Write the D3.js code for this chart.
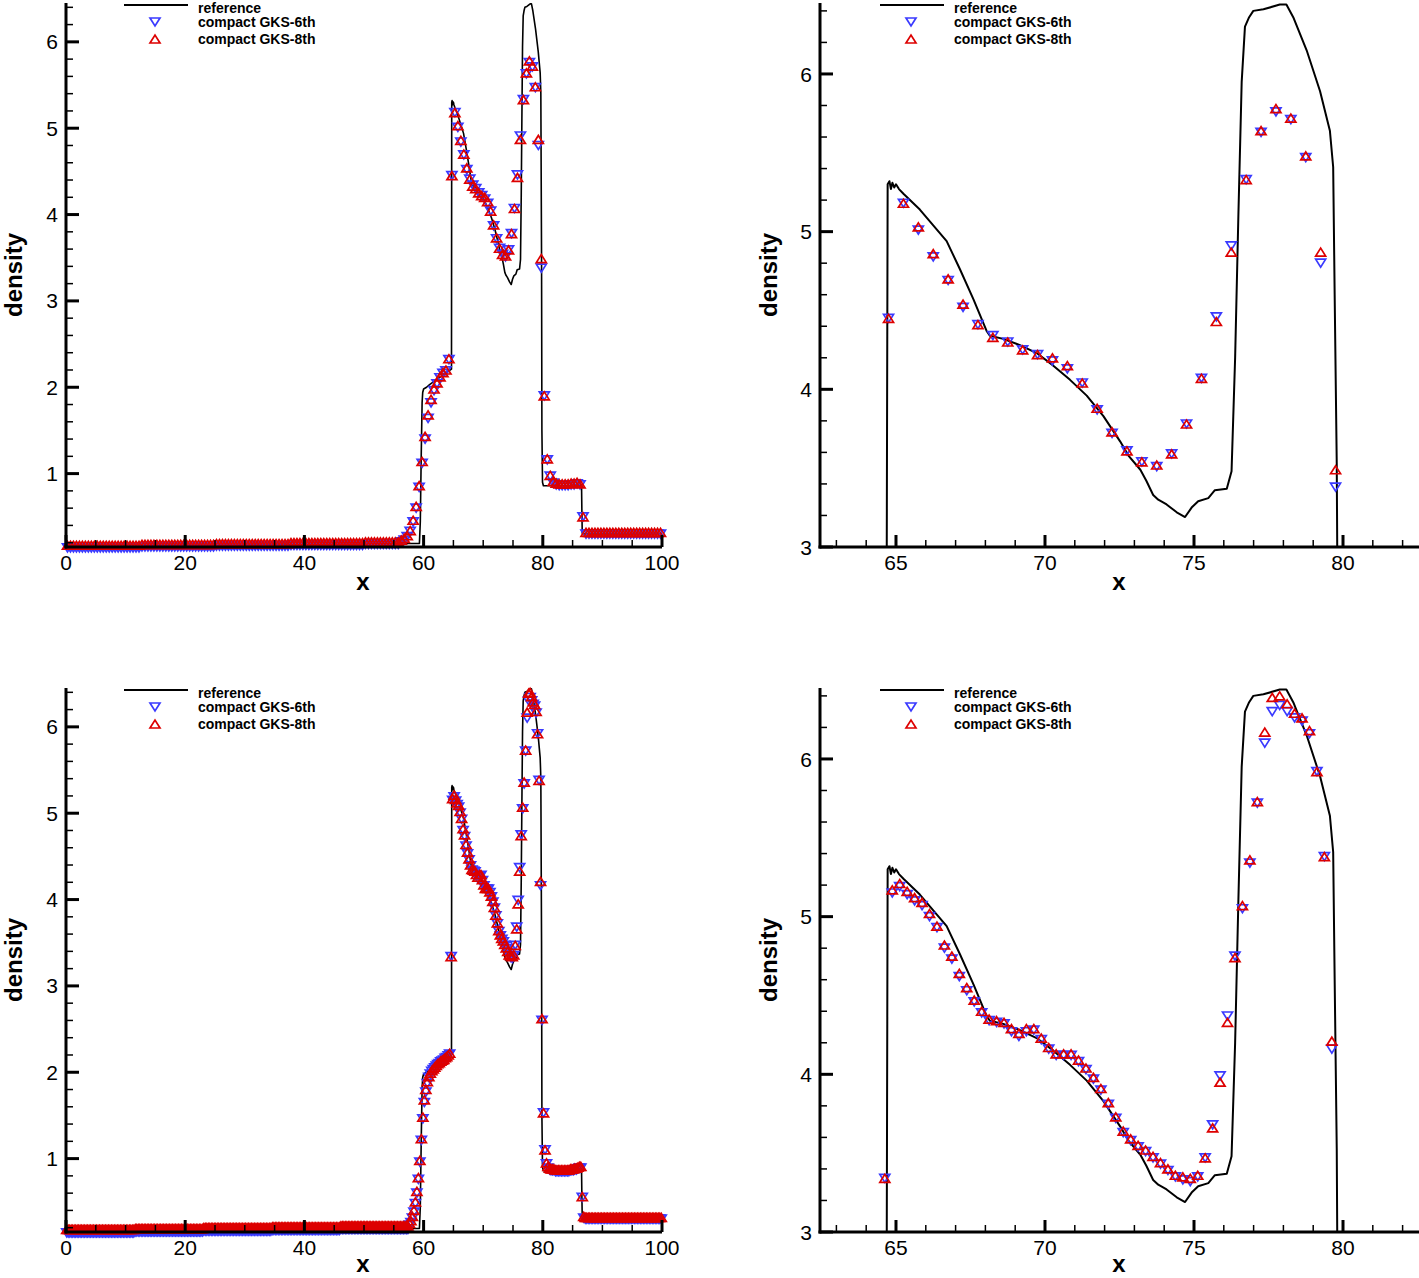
<!DOCTYPE html>
<html><head><meta charset="utf-8">
<script src="https://cdn.jsdelivr.net/npm/d3@7"></script>
<style>body{margin:0;background:#fff}svg{display:block}text{font-family:"Liberation Sans",Arial,Helvetica,sans-serif;fill:#000}</style>
</head><body><svg id="c" width="1419" height="1278"></svg>
<script>
// reference solution (black line)
const refX=[0,10,20,30,40,50,57,59.3,59.45,59.6,59.75,59.85,60,60.5,61,62,63,64,64.68,64.72,64.78,64.83,64.88,64.94,65,65.1,65.25,65.8,66.25,66.7,67.15,67.6,68.04,68.15,68.6,69.16,69.72,70.28,70.84,71.4,71.96,72.52,72.8,73.2,73.4,73.63,73.8,74.08,74.42,74.7,74.92,75.14,75.48,75.7,76.1,76.26,76.38,76.49,76.6,76.71,76.85,76.99,77.33,77.88,78.1,78.33,78.78,79.23,79.56,79.67,79.72,79.79,79.85,79.95,80.1,82,84,86,86.5,86.55,86.62,87,100];
const refY=[.16,.165,.17,.175,.18,.185,.19,.19,.45,1.2,1.82,1.94,1.98,2.0,2.03,2.08,2.13,2.18,2.21,5.30,5.32,5.27,5.31,5.28,5.30,5.27,5.24,5.14,5.04,4.94,4.76,4.57,4.37,4.34,4.32,4.28,4.23,4.15,4.06,3.96,3.83,3.67,3.58,3.49,3.42,3.33,3.30,3.27,3.22,3.19,3.25,3.29,3.31,3.36,3.37,3.48,4.2,5.11,5.95,6.30,6.36,6.40,6.41,6.44,6.44,6.36,6.15,5.89,5.64,5.41,4.6,3.53,1.5,.90,.86,.86,.86,.87,.87,.6,.31,.30,.30];

// top row: 200 cells
const gks6Top=[
.14,.14,.14,.14,.14,.14,.14,.14,.14,.14,
.14,.14,.14,.14,.14,.14,.14,.14,.14,.14,
.14,.14,.14,.14,.14,
.15,.15,.15,.15,.15,.15,.15,.15,.15,.15,
.15,.15,.15,.15,.15,.15,.15,.15,.15,.15,
.15,.15,.15,.15,.15,
.16,.16,.16,.16,.16,.16,.16,.16,.16,.16,
.16,.16,.16,.16,.16,.16,.16,.16,.16,.16,
.16,.16,.16,.16,.16,
.17,.17,.17,.17,.17,.17,.17,.17,.17,.17,
.17,.17,.17,.17,.17,.17,.17,.17,.17,.17,
.17,.17,.17,.17,.17,
.18,.18,.18,.18,.18,.18,.18,.18,.18,.18,
.18,.18,
.21,.23,.27,.33,.44,.60,.84,1.12,1.40,1.64,
1.82,1.96,2.04,2.11,2.16,2.19,2.32,4.45,5.18,5.01,
4.84,4.69,4.52,4.41,4.34,4.30,4.25,4.22,4.18,4.13,
4.04,3.87,3.72,3.61,3.54,3.51,3.59,3.78,4.07,4.46,
4.91,5.33,5.63,5.76,5.71,5.47,4.80,3.38,1.90,1.16,
.97,.89,.87,.86,.86,.86,.86,.87,.87,.88,
.87,.50,
.30,.30,.30,.30,.30,.30,.30,.30,.30,.30,
.30,.30,.30,.30,.30,.30,.30,.30,.30,.30,
.30,.30,.30,.30,.30,.30];
const gks8Top=[
.17,.17,.17,.17,.17,.17,.17,.17,.17,.17,
.17,.17,.17,.17,.17,.17,.17,.17,.17,.17,
.17,.17,.17,.17,.17,
.18,.18,.18,.18,.18,.18,.18,.18,.18,.18,
.18,.18,.18,.18,.18,.18,.18,.18,.18,.18,
.18,.18,.18,.18,.18,
.19,.19,.19,.19,.19,.19,.19,.19,.19,.19,
.19,.19,.19,.19,.19,.19,.19,.19,.19,.19,
.19,.19,.19,.19,.19,
.20,.20,.20,.20,.20,.20,.20,.20,.20,.20,
.20,.20,.20,.20,.20,.20,.20,.20,.20,.20,
.20,.20,.20,.20,.20,
.21,.21,.21,.21,.21,.21,.21,.21,.21,.21,
.21,.21,
.23,.25,.28,.34,.46,.62,.86,1.14,1.43,1.68,
1.86,1.98,2.05,2.12,2.17,2.20,2.33,4.45,5.18,5.03,
4.86,4.70,4.54,4.41,4.33,4.30,4.25,4.22,4.20,4.15,
4.04,3.88,3.73,3.61,3.54,3.52,3.59,3.78,4.07,4.43,
4.87,5.33,5.64,5.78,5.72,5.48,4.87,3.49,1.90,1.17,
.98,.91,.89,.88,.88,.88,.88,.89,.89,.90,
.88,.50,
.32,.32,.32,.32,.32,.32,.32,.32,.32,.32,
.32,.32,.32,.32,.32,.32,.32,.32,.32,.32,
.32,.32,.32,.32,.32,.32];

// bottom row: 400 cells
const gks6Bot=[
.14,.14,.14,.14,.14,.14,.14,.14,.14,.14,
.14,.14,.14,.14,.14,.14,.14,.14,.14,.14,
.14,.14,.14,.14,.14,.14,.14,.14,.14,.14,
.14,.14,.14,.14,.14,.14,.14,.14,.14,.14,
.14,.14,.14,.14,.14,.14,
.15,.15,.15,.15,.15,.15,.15,.15,.15,.15,
.15,.15,.15,.15,.15,.15,.15,.15,.15,.15,
.15,.15,.15,.15,.15,.15,.15,.15,.15,.15,
.15,.15,.15,.15,.15,.15,.15,.15,.15,.15,
.15,.15,.15,.15,.15,.15,
.16,.16,.16,.16,.16,.16,.16,.16,.16,.16,
.16,.16,.16,.16,.16,.16,.16,.16,.16,.16,
.16,.16,.16,.16,.16,.16,.16,.16,.16,.16,
.16,.16,.16,.16,.16,.16,.16,.16,.16,.16,
.16,.16,.16,.16,.16,.16,
.17,.17,.17,.17,.17,.17,.17,.17,.17,.17,
.17,.17,.17,.17,.17,.17,.17,.17,.17,.17,
.17,.17,.17,.17,.17,.17,.17,.17,.17,.17,
.17,.17,.17,.17,.17,.17,.17,.17,.17,.17,
.17,.17,.17,.17,.17,.17,
.18,.18,.18,.18,.18,.18,.18,.18,.18,.18,
.18,.18,.18,.18,.18,.18,.18,.18,.18,.18,
.18,.18,.18,.18,.18,.18,.18,.18,.18,.18,
.18,.18,.18,.18,.18,.18,.18,.18,.18,.18,
.18,.18,.18,.18,.18,.18,
.23,.26,.31,.38,.48,.60,.76,.96,1.21,1.46,
1.65,1.77,1.87,1.94,1.98,2.01,2.03,2.05,2.07,2.09,
2.10,2.12,2.13,2.14,2.16,2.17,2.19,2.21,3.34,5.15,
5.19,5.14,5.10,5.07,5.00,4.93,4.80,4.73,4.62,4.53,
4.46,4.39,4.34,4.33,4.32,4.27,4.24,4.27,4.28,4.22,
4.16,4.12,4.12,4.12,4.08,4.03,3.97,3.90,3.81,3.72,
3.63,3.58,3.54,3.51,3.47,3.43,3.39,3.35,3.33,3.32,
3.35,3.47,3.68,3.99,4.37,4.75,5.05,5.34,5.72,6.10,
6.30,6.34,6.30,6.26,6.24,6.16,5.92,5.38,4.16,2.60,
1.53,1.10,.94,.89,
.87,.86,.86,.86,.85,.85,.85,.85,.85,.85,
.85,.85,.85,.85,.86,.86,.86,.87,.87,.88,
.89,.89,
.55,.31,
.30,.30,.30,.30,.30,.30,.30,.30,.30,.30,
.30,.30,.30,.30,.30,.30,.30,.30,.30,.30,
.30,.30,.30,.30,.30,.30,.30,.30,.30,.30,
.30,.30,.30,.30,.30,.30,.30,.30,.30,.30,
.30,.30,.30,.30,.30,.30,.30,.30,.30,.30,
.30,.30];
const gks8Bot=[
.18,.18,.18,.18,.18,.18,.18,.18,.18,.18,
.18,.18,.18,.18,.18,.18,.18,.18,.18,.18,
.18,.18,.18,.18,.18,.18,.18,.18,.18,.18,
.18,.18,.18,.18,.18,.18,.18,.18,.18,.18,
.18,.18,.18,.18,.18,.18,
.19,.19,.19,.19,.19,.19,.19,.19,.19,.19,
.19,.19,.19,.19,.19,.19,.19,.19,.19,.19,
.19,.19,.19,.19,.19,.19,.19,.19,.19,.19,
.19,.19,.19,.19,.19,.19,.19,.19,.19,.19,
.19,.19,.19,.19,.19,.19,
.20,.20,.20,.20,.20,.20,.20,.20,.20,.20,
.20,.20,.20,.20,.20,.20,.20,.20,.20,.20,
.20,.20,.20,.20,.20,.20,.20,.20,.20,.20,
.20,.20,.20,.20,.20,.20,.20,.20,.20,.20,
.20,.20,.20,.20,.20,.20,
.21,.21,.21,.21,.21,.21,.21,.21,.21,.21,
.21,.21,.21,.21,.21,.21,.21,.21,.21,.21,
.21,.21,.21,.21,.21,.21,.21,.21,.21,.21,
.21,.21,.21,.21,.21,.21,.21,.21,.21,.21,
.21,.21,.21,.21,.21,.21,
.22,.22,.22,.22,.22,.22,.22,.22,.22,.22,
.22,.22,.22,.22,.22,.22,.22,.22,.22,.22,
.22,.22,.22,.22,.22,.22,.22,.22,.22,.22,
.22,.22,.22,.22,.22,.22,.22,.22,.22,.22,
.22,.22,.22,.22,.22,.22,
.25,.28,.33,.40,.50,.62,.78,.98,1.23,1.48,
1.68,1.80,1.89,1.95,1.99,2.02,2.04,2.06,2.08,2.10,
2.11,2.13,2.14,2.15,2.17,2.18,2.20,2.22,3.34,5.17,
5.21,5.16,5.12,5.09,5.02,4.94,4.82,4.75,4.64,4.55,
4.47,4.40,4.35,4.34,4.33,4.29,4.26,4.29,4.29,4.23,
4.17,4.13,4.13,4.13,4.09,4.04,3.98,3.91,3.82,3.73,
3.64,3.59,3.55,3.52,3.48,3.44,3.40,3.36,3.35,3.34,
3.36,3.47,3.66,3.95,4.33,4.74,5.07,5.36,5.73,6.17,
6.39,6.40,6.35,6.29,6.26,6.18,5.92,5.38,4.21,2.62,
1.53,1.10,.95,.91,
.89,.88,.88,.88,.87,.87,.87,.87,.87,.87,
.87,.87,.87,.87,.88,.88,.88,.89,.89,.90,
.91,.91,
.56,.33,
.32,.32,.32,.32,.32,.32,.32,.32,.32,.32,
.32,.32,.32,.32,.32,.32,.32,.32,.32,.32,
.32,.32,.32,.32,.32,.32,.32,.32,.32,.32,
.32,.32,.32,.32,.32,.32,.32,.32,.32,.32,
.32,.32,.32,.32,.32,.32,.32,.32,.32,.32,
.32,.32];

const fullXTicks=[0,20,40,60,80,100];
const zoomXTicks=[65,70,75,80];
const fullYTicks=[1,2,3,4,5,6];
const zoomYTicks=[3,4,5,6];
const legendLabels=["reference","compact GKS-6th","compact GKS-8th"];
const xTitle="x", yTitle="density";

const BLUE="#3a3aff", RED="#dd0000";
const svg=d3.select("#c");
svg.append("rect").attr("width",1419).attr("height",1278).attr("fill","#fff");

const cellGrid=n=>d3.range(n).map(i=>(i+0.5)*100/n);
const rows=[{dy:0,s6:gks6Top,s8:gks8Top,xtY:43},{dy:685,s6:gks6Bot,s8:gks8Bot,xtY:40}];
const cols=[
 {x0:66,x1:662,xd:[0,100],yd:[0.15,6.45],xMaj:fullXTicks,xStep:5,yMaj:fullYTicks,clip:false,legX:124,yTitleX:12,xTitleX:363},
 {x0:820,x1:1419,xd:[62.45,82.55],yd:[3,6.45],xMaj:zoomXTicks,xStep:1,yMaj:zoomYTicks,clip:true,legX:880,yTitleX:767,xTitleX:1119}
];
const triDown="M-5,-4L5,-4L0,4Z", triUp="M-5,4L5,4L0,-4Z";
let cid=0;
rows.forEach(r=>{
 cols.forEach(c=>{
  const y0=3+r.dy, y1=547+r.dy;
  const x=d3.scaleLinear().domain(c.xd).range([c.x0,c.x1]);
  const y=d3.scaleLinear().domain(c.yd).range([y1,y0]);
  const g=svg.append("g");
  let plot=g.append("g");
  if(c.clip){
    const id="clip"+(cid++);
    svg.append("clipPath").attr("id",id).append("rect").attr("x",c.x0).attr("y",0+r.dy).attr("width",c.x1-c.x0).attr("height",y1-r.dy);
    plot.attr("clip-path","url(#"+id+")");
  }
  const line=d3.line().x((d,i)=>x(refX[i])).y((d,i)=>y(refY[i]));
  plot.append("path").attr("d",line(refX)).attr("fill","none").attr("stroke","#000").attr("stroke-width",c.clip?2:1.6).attr("stroke-linejoin","round");
  const gx=cellGrid(r.s6.length);
  const inX=v=>v>=c.xd[0]-0.3&&v<=c.xd[1]+0.3;
  plot.append("g").selectAll("path").data(r.s6.map((v,i)=>[gx[i],v]).filter(d=>inX(d[0])))
   .join("path").attr("d",triDown).attr("transform",d=>`translate(${x(d[0])},${y(d[1])})`)
   .attr("fill","none").attr("stroke",BLUE).attr("stroke-width",1.7);
  plot.append("g").selectAll("path").data(r.s8.map((v,i)=>[gx[i],v]).filter(d=>inX(d[0])))
   .join("path").attr("d",triUp).attr("transform",d=>`translate(${x(d[0])},${y(d[1])})`)
   .attr("fill","none").attr("stroke",RED).attr("stroke-width",1.7);

  const ax=g.append("g");
  const xMinor=d3.range(Math.ceil(c.xd[0]/c.xStep),Math.floor(c.xd[1]/c.xStep)+1).map(k=>k*c.xStep).filter(v=>!c.xMaj.includes(v));
  const yMinor=d3.range(Math.ceil(c.yd[0]*5-1e-9),Math.floor(c.yd[1]*5+1e-9)+1).filter(k=>k%5!==0).map(k=>k/5);
  ax.selectAll(".xmi").data(xMinor).join("line").attr("x1",d=>x(d)).attr("x2",d=>x(d)).attr("y1",y1).attr("y2",y1-7).attr("stroke","#000").attr("stroke-width",1.5);
  ax.selectAll(".xma").data(c.xMaj).join("line").attr("x1",d=>x(d)).attr("x2",d=>x(d)).attr("y1",y1).attr("y2",y1-12).attr("stroke","#000").attr("stroke-width",3);
  ax.selectAll(".ymi").data(yMinor).join("line").attr("y1",d=>y(d)).attr("y2",d=>y(d)).attr("x1",c.x0).attr("x2",c.x0+7).attr("stroke","#000").attr("stroke-width",1.5);
  ax.selectAll(".yma").data(c.yMaj).join("line").attr("y1",d=>y(d)).attr("y2",d=>y(d)).attr("x1",c.x0).attr("x2",c.x0+13).attr("stroke","#000").attr("stroke-width",3);
  ax.append("line").attr("x1",c.x0).attr("x2",c.x0).attr("y1",y0).attr("y2",y1+1.5).attr("stroke","#000").attr("stroke-width",3);
  ax.append("line").attr("x1",c.x0-1.5).attr("x2",c.x1).attr("y1",y1).attr("y2",y1).attr("stroke","#000").attr("stroke-width",3);
  ax.selectAll(".xl").data(c.xMaj).join("text").attr("x",d=>x(d)).attr("y",y1+23).attr("text-anchor","middle").attr("font-size",21).text(d=>d);
  ax.selectAll(".yl").data(c.yMaj).join("text").attr("x",c.x0-8).attr("y",d=>y(d)).attr("dy","0.36em").attr("text-anchor","end").attr("font-size",21).text(d=>d);
  ax.append("text").attr("x",c.xTitleX).attr("y",y1+r.xtY).attr("text-anchor","middle").attr("font-size",24).attr("font-weight","bold").text(xTitle);
  ax.append("text").attr("transform",`translate(${c.yTitleX+10},${275+r.dy}) rotate(-90)`).attr("text-anchor","middle").attr("font-size",24).attr("font-weight","bold").text(yTitle);

  const lg=g.append("g");
  const ly=[7.5+r.dy,22+r.dy,39+r.dy];
  lg.append("line").attr("x1",c.legX).attr("x2",c.legX+64).attr("y1",5+r.dy).attr("y2",5+r.dy).attr("stroke","#000").attr("stroke-width",2);
  lg.append("path").attr("d",triDown).attr("transform",`translate(${c.legX+31},${ly[1]})`).attr("fill","none").attr("stroke",BLUE).attr("stroke-width",1.7);
  lg.append("path").attr("d",triUp).attr("transform",`translate(${c.legX+31},${ly[2]})`).attr("fill","none").attr("stroke",RED).attr("stroke-width",1.7);
  legendLabels.forEach((t,i)=>lg.append("text").attr("x",c.legX+74).attr("y",ly[i]).attr("dy","0.36em").attr("font-size",14).attr("font-weight","bold").text(t));
 });
});
</script></body></html>
